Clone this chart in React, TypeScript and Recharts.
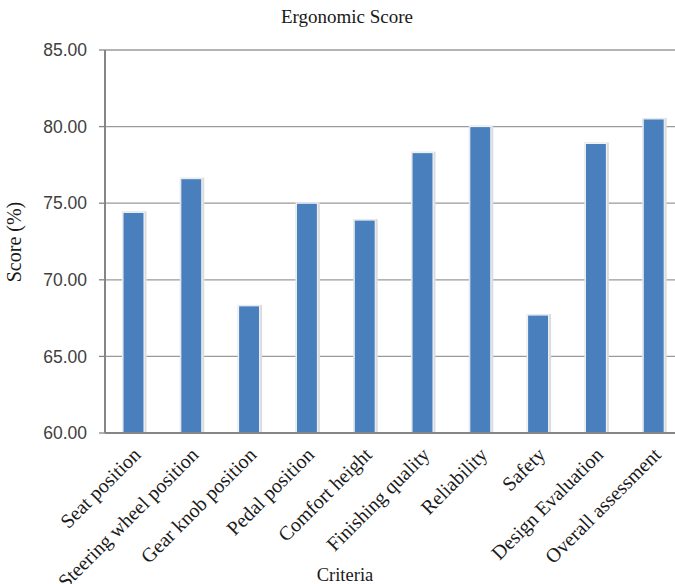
import React from "react";
import { BarChart, Bar, XAxis, YAxis, CartesianGrid } from "recharts";

const criteria = [
  "Seat position",
  "Steering wheel position",
  "Gear knob position",
  "Pedal position",
  "Comfort height",
  "Finishing quality",
  "Reliability",
  "Safety",
  "Design Evaluation",
  "Overall assessment",
];
const scores = [74.4, 76.6, 68.3, 75.0, 73.9, 78.3, 80.0, 67.7, 78.9, 80.5];
const yTicks = [60, 65, 70, 75, 80, 85];

const data = criteria.map((name, i) => ({ name, score: scores[i] }));

const SERIF = "'Liberation Serif', 'Times New Roman', serif";
const SANS = "'Liberation Sans', Arial, sans-serif";

const XTick = (props: any) => {
  const { x, y, payload } = props;
  const ax = x + 8;
  const ay = y + 23;
  return (
    <text
      x={ax}
      y={ay}
      textAnchor="end"
      transform={`rotate(-45, ${ax}, ${ay})`}
      fontFamily={SERIF}
      fontSize={20}
      fill="#1a1a1a"
    >
      {payload.value}
    </text>
  );
};

const BarShape = (props: any) => {
  const { x, y, width, height } = props;
  if (height == null || height <= 0) return null;
  return (
    <g>
      <rect x={x - 1} y={y - 1} width={width + 3.5} height={height + 3.5} fill="#dcdcdc" />
      <rect x={x} y={y} width={width} height={height} fill="#4a7fbd" stroke="#f4f7fb" strokeWidth={1} />
    </g>
  );
};

export default function App() {
  return (
    <div
      style={{
        position: "absolute",
        left: 0,
        top: 0,
        width: 675,
        height: 584,
        overflow: "hidden",
        background: "#fff",
      }}
    >
      <BarChart
        width={690}
        height={584}
        data={data}
        margin={{ top: 50, right: 7, left: 0, bottom: 0 }}
        barSize={21}
      >
        <CartesianGrid vertical={false} stroke="#9a9a9a" strokeWidth={1.3} />
        <XAxis
          dataKey="name"
          height={151}
          interval={0}
          tickSize={0}
          tickMargin={0}
          tickLine={false}
          axisLine={{ stroke: "#858585", strokeWidth: 2 }}
          tick={<XTick />}
        />
        <YAxis
          width={105}
          domain={[60, 85]}
          ticks={yTicks}
          allowDataOverflow
          tickFormatter={(v: number) => v.toFixed(2)}
          tickSize={6}
          tickMargin={12}
          tickLine={{ stroke: "#858585", strokeWidth: 1.3 }}
          axisLine={{ stroke: "#858585", strokeWidth: 2 }}
          tick={{ fontFamily: SANS, fontSize: 17.5, fill: "#404040" }}
        />
        <Bar dataKey="score" isAnimationActive={false} shape={<BarShape />} />
      </BarChart>
      <svg
        width={675}
        height={584}
        style={{ position: "absolute", left: 0, top: 0, pointerEvents: "none" }}
      >
        <text x={347} y={23} textAnchor="middle" fontFamily={SERIF} fontSize={19} fill="#1a1a1a">
          Ergonomic Score
        </text>
        <text
          x={21}
          y={242}
          textAnchor="middle"
          transform="rotate(-90, 21, 242)"
          fontFamily={SERIF}
          fontSize={20}
          fill="#1a1a1a"
        >
          Score (%)
        </text>
        <text x={345} y={581} textAnchor="middle" fontFamily={SERIF} fontSize={18.5} fill="#1a1a1a">
          Criteria
        </text>
      </svg>
    </div>
  );
}
